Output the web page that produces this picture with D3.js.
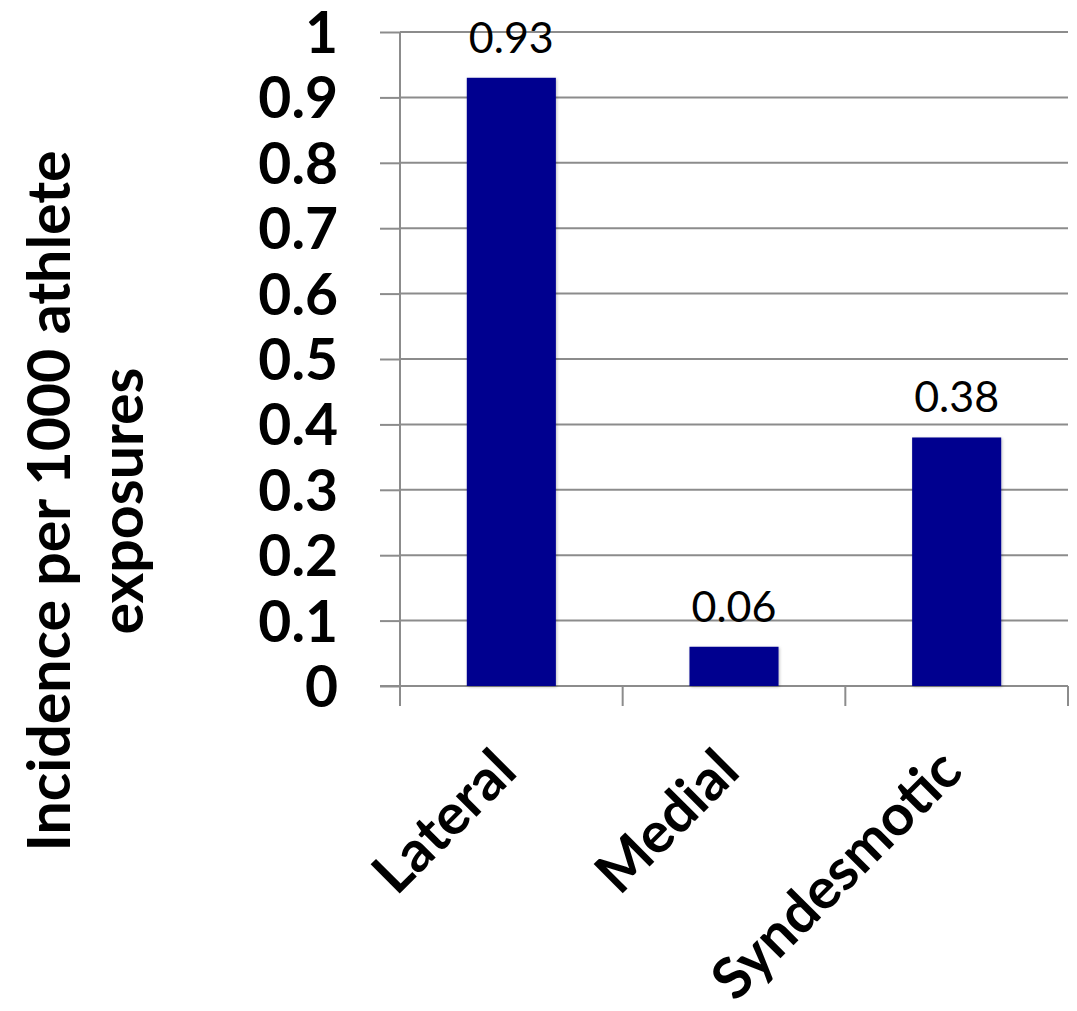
<!DOCTYPE html>
<html>
<head>
<meta charset="utf-8">
<script src="https://cdn.jsdelivr.net/npm/d3@7"></script>
<style>
  html, body { margin: 0; padding: 0; background: #fff; }
  svg { display: block; }
</style>
</head>
<body>
<div id="chart"></div>
<script>
// Ankle sprain incidence by type
const categories = ["Lateral", "Medial", "Syndesmotic"];
const incidence = [0.93, 0.06, 0.38];
const valueLabels = ["0.93", "0.06", "0.38"];
const yTicks = [0, 0.1, 0.2, 0.3, 0.4, 0.5, 0.6, 0.7, 0.8, 0.9, 1];
const yTickLabels = ["0", "0.1", "0.2", "0.3", "0.4", "0.5", "0.6", "0.7", "0.8", "0.9", "1"];
const yTitleLines = ["Incidence per 1000 athlete", "exposures"];

const W = 1077, H = 1011;
const plot = { left: 400, right: 1068, top: 32, bottom: 686 };
const font = "Lato, Carlito, Calibri, 'Open Sans', sans-serif";
const gridColor = "#8c8c8c";
const barColor = "#00008f";
const bigText = 57;

const svg = d3.select("#chart").append("svg")
  .attr("width", W).attr("height", H)
  .attr("font-family", font);

const x = d3.scaleBand().domain(categories)
  .range([plot.left, plot.right]).paddingInner(0.6).paddingOuter(0.3);
const xEdges = d3.scaleBand().domain(categories)
  .range([plot.left, plot.right]).padding(0);
const y = d3.scaleLinear().domain([0, 1]).range([plot.bottom, plot.top]);

// Horizontal gridlines
svg.append("g").selectAll("line").data(yTicks.slice(1)).join("line")
  .attr("x1", plot.left).attr("x2", plot.right)
  .attr("y1", d => y(d)).attr("y2", d => y(d))
  .attr("stroke", gridColor).attr("stroke-width", 2);

// Y axis with outward ticks
const yAxis = d3.axisLeft(y).tickValues(yTicks)
  .tickFormat((d, i) => yTickLabels[i]).tickSize(20).tickPadding(42);
const gy = svg.append("g").attr("transform", `translate(${plot.left},0)`).call(yAxis);
gy.select(".domain").attr("stroke", gridColor).attr("stroke-width", 2)
  .attr("d", `M0,${plot.top}V${plot.bottom}`);
gy.selectAll(".tick line").attr("stroke", gridColor).attr("stroke-width", 2);
gy.selectAll(".tick text").attr("fill", "#000").attr("font-size", bigText)
  .attr("font-weight", 700).attr("font-family", font).attr("dy", "0.36em");

// X axis baseline and category divider ticks
const boundaries = categories.map(c => xEdges(c)).concat([plot.right]);
svg.append("line")
  .attr("x1", plot.left - 20).attr("x2", plot.right)
  .attr("y1", plot.bottom).attr("y2", plot.bottom)
  .attr("stroke", gridColor).attr("stroke-width", 2);
svg.append("g").selectAll("line").data(boundaries).join("line")
  .attr("x1", d => d).attr("x2", d => d)
  .attr("y1", plot.bottom).attr("y2", plot.bottom + 20)
  .attr("stroke", gridColor).attr("stroke-width", 2);

// Bars
const defs = svg.append("defs");
const f = defs.append("filter").attr("id", "shadow")
  .attr("x", "-10%").attr("y", "-10%").attr("width", "130%").attr("height", "130%");
f.append("feDropShadow").attr("dx", 1).attr("dy", 1).attr("stdDeviation", 1.5)
  .attr("flood-color", "#000").attr("flood-opacity", 0.25);

svg.append("g").selectAll("rect").data(categories).join("rect")
  .attr("x", c => x(c))
  .attr("width", x.bandwidth())
  .attr("y", (c, i) => y(incidence[i]))
  .attr("height", (c, i) => y(0) - y(incidence[i]))
  .attr("fill", barColor)
  .attr("filter", "url(#shadow)");

// Value labels
svg.append("g").selectAll("text").data(categories).join("text")
  .attr("x", c => x(c) + x.bandwidth() / 2)
  .attr("y", (c, i) => y(incidence[i]) - 25)
  .attr("text-anchor", "middle")
  .attr("font-size", 43)
  .attr("fill", "#000")
  .text((c, i) => valueLabels[i]);

// Rotated category labels
svg.append("g").selectAll("text").data(categories).join("text")
  .attr("transform", c => `translate(${x(c) + x.bandwidth() / 2 + 8},${plot.bottom + 88}) rotate(-45)`)
  .attr("text-anchor", "end")
  .attr("font-size", bigText)
  .attr("font-weight", 700)
  .attr("fill", "#000")
  .text(c => c);

// Y axis title, two lines
const titleBaselines = [70, 143];
svg.append("g").selectAll("text").data(yTitleLines).join("text")
  .attr("transform", (d, i) => `translate(${titleBaselines[i]},${(plot.top + plot.bottom) / 2 + 142}) rotate(-90)`)
  .attr("text-anchor", "middle")
  .attr("font-size", 59)
  .attr("font-weight", 700)
  .attr("fill", "#000")
  .text(d => d);
</script>
</body>
</html>
